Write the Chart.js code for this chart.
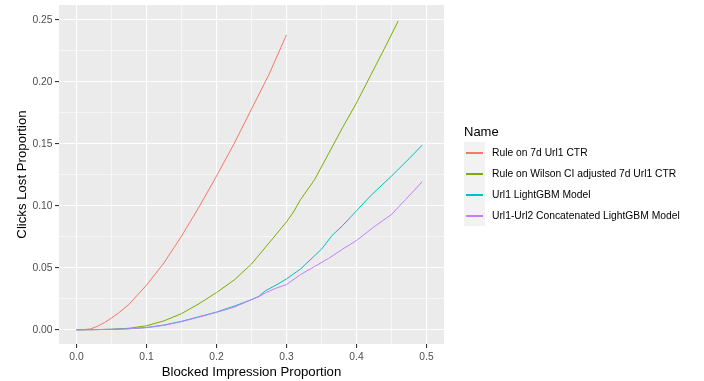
<!DOCTYPE html>
<html>
<head>
<meta charset="utf-8">
<title>Clicks lost vs blocked impressions</title>
<script src="https://cdn.jsdelivr.net/npm/chart.js@4"></script>
<style>
    html, body { margin: 0; padding: 0; background: #ffffff; }
    #wrap { position: relative; width: 704px; height: 381px; font-family: "Liberation Sans", Arial, sans-serif; }
    #legend { position: absolute; left: 464px; top: 121px; }
    #legend .title { height: 21px; line-height: 21px; font-size: 13px; color: #000; }
    #legend .row { display: flex; align-items: center; height: 21px; }
    #legend .key { position: relative; width: 21px; height: 21px; background: #f2f2f2; }
    #legend .key span { position: absolute; left: 2px; right: 2px; top: 10px; height: 1.5px; }
    #legend .label { margin-left: 7px; font-size: 10.3px; color: #000; white-space: nowrap; }
</style>
</head>
<body>
<div id="wrap">
    <canvas id="chart" width="704" height="381"></canvas>
    <div id="legend"></div>
</div>
<script>
(() => {
    "use strict";

    // series
    const seriesNames = [
        "Rule on 7d Url1 CTR",
        "Rule on Wilson CI adjusted 7d Url1 CTR",
        "Url1 LightGBM Model",
        "Url1-Url2 Concatenated LightGBM Model"
    ];
    const seriesColors = ["#F8766D", "#7CAE00", "#00BFC4", "#C77CFF"];

    const ruleX = [0, 0.01, 0.02, 0.03, 0.04, 0.05, 0.06, 0.075, 0.1, 0.125, 0.15, 0.175, 0.2, 0.225, 0.25, 0.275, 0.3];
    const ruleY = [0, 0.0001, 0.0007, 0.0028, 0.0058, 0.0095, 0.0135, 0.0205, 0.036, 0.054, 0.0755, 0.099, 0.124, 0.15, 0.178, 0.206, 0.238];

    const wilsonX = [0, 0.025, 0.05, 0.075, 0.1, 0.125, 0.15, 0.175, 0.2, 0.225, 0.25, 0.275, 0.3, 0.31, 0.32, 0.34, 0.36, 0.38, 0.4, 0.42, 0.44, 0.4595];
    const wilsonY = [0, 0.0001, 0.0004, 0.0012, 0.0032, 0.0072, 0.013, 0.021, 0.03, 0.04, 0.053, 0.07, 0.087, 0.095, 0.105, 0.121, 0.142, 0.163, 0.183, 0.205, 0.227, 0.249];

    const url1X = [0, 0.025, 0.05, 0.075, 0.1, 0.125, 0.15, 0.175, 0.2, 0.225, 0.25, 0.26, 0.27, 0.285, 0.3, 0.32, 0.335, 0.35, 0.365, 0.38, 0.4, 0.42, 0.45, 0.475, 0.494];
    const url1Y = [0, 0.0001, 0.0003, 0.0008, 0.0018, 0.0038, 0.0068, 0.0105, 0.0143, 0.019, 0.0243, 0.0268, 0.0315, 0.036, 0.041, 0.049, 0.057, 0.065, 0.076, 0.084, 0.096, 0.108, 0.124, 0.138, 0.149];

    const concatX = [0, 0.025, 0.05, 0.075, 0.1, 0.125, 0.15, 0.175, 0.2, 0.225, 0.25, 0.26, 0.27, 0.285, 0.3, 0.32, 0.34, 0.36, 0.38, 0.4, 0.425, 0.45, 0.47, 0.494];
    const concatY = [0, 0.0001, 0.0003, 0.0008, 0.0017, 0.0036, 0.0065, 0.0102, 0.014, 0.0182, 0.0243, 0.0265, 0.0298, 0.0335, 0.0365, 0.0445, 0.051, 0.0575, 0.065, 0.072, 0.083, 0.093, 0.105, 0.1195];

    // grid: major ticks get labels, minor ones only a thin line
    const xTicks = [0, 0.05, 0.1, 0.15, 0.2, 0.25, 0.3, 0.35, 0.4, 0.45, 0.5];
    const xMajor = [0, 0.1, 0.2, 0.3, 0.4, 0.5];
    const yTicks = [0, 0.025, 0.05, 0.075, 0.1, 0.125, 0.15, 0.175, 0.2, 0.225, 0.25];
    const yMajor = [0, 0.05, 0.1, 0.15, 0.2, 0.25];

    const xs = [ruleX, wilsonX, url1X, concatX];
    const ys = [ruleY, wilsonY, url1Y, concatY];

    const isMajor = (list, v) => list.some((m) => Math.abs(m - v) < 1e-9);

    const panelBackground = {
        id: "panelBackground",
        beforeDraw(chart) {
            const { ctx, chartArea: a } = chart;
            ctx.save();
            ctx.fillStyle = "#ebebeb";
            ctx.fillRect(a.left, a.top, a.right - a.left, a.bottom - a.top);
            ctx.restore();
        }
    };

    const tickFont = { family: "'Liberation Sans', Arial, sans-serif", size: 10.3 };
    const titleFont = { family: "'Liberation Sans', Arial, sans-serif", size: 13.2 };

    const gridFor = (major) => ({
        color: "#ffffff",
        lineWidth: (ctx) => (ctx.tick && isMajor(major, ctx.tick.value) ? 1.1 : 0.55),
        drawTicks: true,
        tickLength: 4,
        tickWidth: 1.1,
        tickColor: (ctx) => (ctx.tick && isMajor(major, ctx.tick.value) ? "#333333" : "rgba(0,0,0,0)")
    });

    // keep the panel exactly where the reference has it
    const noEdgePadding = (axis) => {
        axis.paddingTop = 0;
        axis.paddingBottom = 0;
        axis.paddingLeft = 0;
        axis.paddingRight = 0;
    };

    new Chart(document.getElementById("chart"), {
        type: "line",
        data: {
            datasets: seriesNames.map((name, i) => ({
                label: name,
                data: xs[i].map((x, j) => ({ x, y: ys[i][j] })),
                borderColor: seriesColors[i],
                backgroundColor: seriesColors[i],
                borderWidth: 1,
                pointRadius: 0,
                tension: 0,
                fill: false,
                order: seriesNames.length - i
            }))
        },
        options: {
            responsive: false,
            animation: false,
            layout: { padding: { top: 5, right: 260, bottom: 0, left: 0 } },
            plugins: {
                legend: { display: false },
                tooltip: { enabled: false }
            },
            scales: {
                x: {
                    type: "linear",
                    min: -0.025,
                    max: 0.525,
                    afterBuildTicks: (axis) => { axis.ticks = xTicks.map((v) => ({ value: v })); },
                    afterFit: (axis) => { axis.height = 37; noEdgePadding(axis); },
                    grid: gridFor(xMajor),
                    border: { display: false },
                    ticks: {
                        autoSkip: false,
                        maxRotation: 0,
                        padding: 3,
                        color: "#4d4d4d",
                        font: tickFont,
                        callback: (v) => (isMajor(xMajor, v) ? Number(v).toFixed(1) : "")
                    },
                    title: {
                        display: true,
                        text: "Blocked Impression Proportion",
                        color: "#000000",
                        font: titleFont,
                        padding: { top: 0, bottom: 1 }
                    }
                },
                y: {
                    type: "linear",
                    min: -0.0115,
                    max: 0.262,
                    afterBuildTicks: (axis) => { axis.ticks = yTicks.map((v) => ({ value: v })); },
                    afterFit: (axis) => { axis.width = 59; noEdgePadding(axis); },
                    grid: gridFor(yMajor),
                    border: { display: false },
                    ticks: {
                        autoSkip: false,
                        padding: 2.5,
                        color: "#4d4d4d",
                        font: tickFont,
                        callback: (v) => (isMajor(yMajor, v) ? Number(v).toFixed(2) : "")
                    },
                    title: {
                        display: true,
                        text: "Clicks Lost Proportion",
                        color: "#000000",
                        font: titleFont,
                        padding: { top: 14, bottom: 0 }
                    }
                }
            }
        },
        plugins: [panelBackground]
    });

    // legend, ggplot style: grey key boxes with a short line each
    const legend = document.getElementById("legend");
    const title = document.createElement("div");
    title.className = "title";
    title.textContent = "Name";
    legend.appendChild(title);
    seriesNames.forEach((name, i) => {
        const row = document.createElement("div");
        row.className = "row";
        const key = document.createElement("div");
        key.className = "key";
        const line = document.createElement("span");
        line.style.background = seriesColors[i];
        key.appendChild(line);
        const label = document.createElement("div");
        label.className = "label";
        label.textContent = name;
        row.appendChild(key);
        row.appendChild(label);
        legend.appendChild(row);
    });
})();
</script>
</body>
</html>
